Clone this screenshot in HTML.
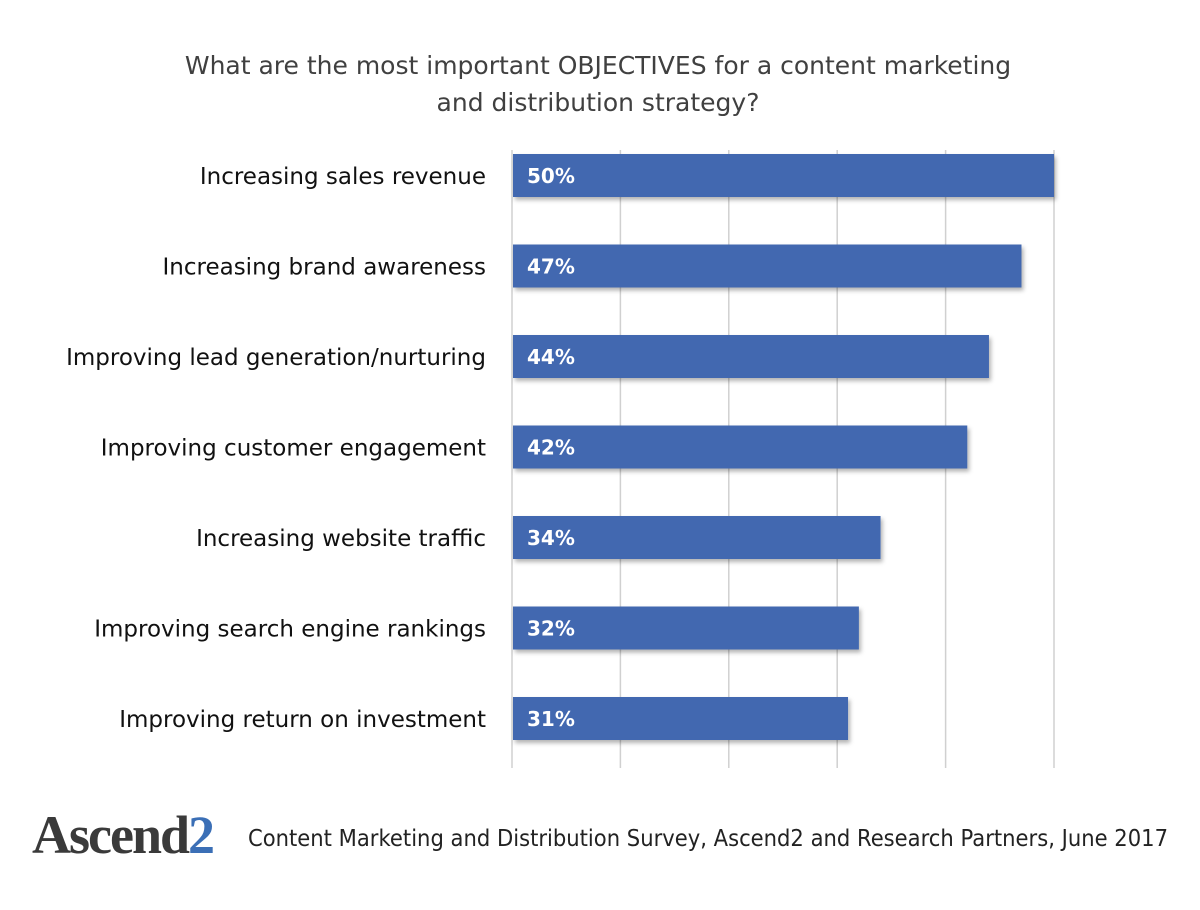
<!DOCTYPE html>
<html><head><meta charset="utf-8"><style>
body{margin:0;background:#fff;width:1200px;height:906px;overflow:hidden;font-family:"DejaVu Sans","Liberation Sans",sans-serif;}
</style></head><body>
<svg width="1200" height="906" xmlns="http://www.w3.org/2000/svg">
<defs><filter id="sh" x="-5%" y="-20%" width="115%" height="160%"><feDropShadow dx="2" dy="3" stdDeviation="2" flood-color="#000" flood-opacity="0.3"/></filter></defs>
<text x="598" y="74" text-anchor="middle" font-size="25" fill="#404040">What are the most important OBJECTIVES for a content marketing</text>
<text x="598" y="111" text-anchor="middle" font-size="25" fill="#404040">and distribution strategy?</text>
<g id="grid"></g>
<g id="bars"></g>
<text x="32" y="853" font-family="Liberation Serif,serif" font-size="54" font-weight="bold" fill="#3a3a3a" letter-spacing="-2">Ascend<tspan fill="#3b6fb6">2</tspan></text>
<text x="248" y="846" font-size="23" fill="#222" textLength="920" lengthAdjust="spacingAndGlyphs">Content Marketing and Distribution Survey, Ascend2 and Research Partners, June 2017</text>
</svg>
<script>
const categories=["Increasing sales revenue","Increasing brand awareness","Improving lead generation/nurturing","Improving customer engagement","Increasing website traffic","Improving search engine rankings","Improving return on investment"];
const values=[50,47,44,42,34,32,31];
const ticks=[0,10,20,30,40,50];
const NS="http://www.w3.org/2000/svg";
const x=v=>512+v*10.84;
const y=i=>175+i*90.5;
const g=document.getElementById('grid'),b=document.getElementById('bars');
ticks.forEach(t=>{const l=document.createElementNS(NS,'line');


l.setAttribute('x1',x(t));l.setAttribute('x2',x(t));l.setAttribute('y1',150);l.setAttribute('y2',768);l.setAttribute('stroke','#d0d0d0');l.setAttribute('stroke-width','1.5');g.appendChild(l);});
categories.forEach((c,i)=>{
const r=document.createElementNS(NS,'rect');


r.setAttribute('x',x(0)+1);r.setAttribute('y',y(i)-21);r.setAttribute('width',x(values[i])-x(0)-1);r.setAttribute('height',43);r.setAttribute('fill','#4268b0');r.setAttribute('filter','url(#sh)');b.appendChild(r);
const v=document.createElementNS(NS,'text');


v.setAttribute('x',527);v.setAttribute('y',y(i)+8);v.setAttribute('font-size','20');v.setAttribute('font-weight','bold');v.setAttribute('fill','#fff');v.textContent=values[i]+'%';b.appendChild(v);
const t=document.createElementNS(NS,'text');


t.setAttribute('x',486);t.setAttribute('y',y(i)+9);t.setAttribute('text-anchor','end');t.setAttribute('font-size','23');t.setAttribute('fill','#111');t.textContent=c;b.appendChild(t);
});
</script>
</body></html>
